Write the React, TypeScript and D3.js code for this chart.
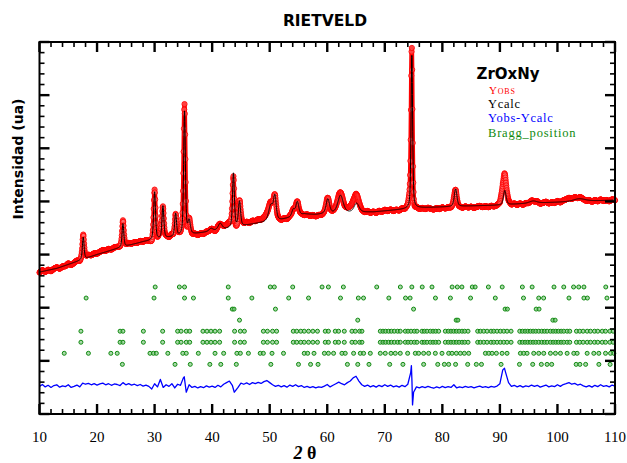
import React from "react";
import * as d3 from "d3";

const W = 627;
const H = 463;

// ---- axis definitions ----
const X_DOMAIN: [number, number] = [10, 110];
const Y_DOMAIN: [number, number] = [0, 7000];
const xTickLabels = ["10", "20", "30", "40", "50", "60", "70", "80", "90", "100", "110"];
const xTickValues = [10, 20, 30, 40, 50, 60, 70, 80, 90, 100, 110];

// ---- background of the calculated profile [2theta, intensity] ----
const background: [number, number][] = [
  [10, 2670], [13, 2740], [16, 2850], [20, 3000], [24, 3130], [28, 3240],
  [32, 3310], [36, 3370], [40, 3440], [44, 3510], [48, 3590], [52, 3650],
  [56, 3760], [58, 3750], [60, 3770], [64, 3790], [68, 3800], [72, 3840],
  [76, 3880], [80, 3895], [85, 3915], [90, 3930], [95, 3965], [100, 3985],
  [105, 4005], [110, 4025],
];

const peaks: [number, number, number][] = [
  [17.6, 420, 0.35], [24.5, 440, 0.35], [30.0, 900, 0.38], [31.45, 610, 0.38],
  [33.65, 430, 0.38], [35.2, 2330, 0.36], [36.0, 250, 0.5], [39.8, 50, 0.8],
  [41.4, 120, 0.8], [43.7, 1020, 0.38], [44.75, 470, 0.45], [50.2, 300, 0.9],
  [50.9, 430, 0.55], [54.1, 130, 0.6], [54.8, 260, 0.6], [60.1, 270, 0.7],
  [62.3, 330, 1.1], [65.1, 170, 1.0], [74.7, 2880, 0.32], [82.3, 330, 0.55],
  [90.85, 270, 0.55], [95.8, 40, 1.5], [103.8, 50, 2.5],
];

// ---- Yobs - Ycalc, every 0.5 deg from 10 to 110 ----
const diffStart = 10;
const diffStep = 0.5;
const diffGrid = [
  -10, 25, -20, 10, -30, 5, 20, -25, 0, -15,
  20, -30, -10, 15, -20, 50, 30, 45, 20, 40,
  15, 35, 50, 20, 40, 10, 35, 25, 5, 60,
  20, 40, 15, 30, 5, 25, -5, 15, -10, -60,
  40, -20, 120, -30, 20, -10, 40, -40, 30, 10,
  150, -120, 20, -30, -10, -40, -15, -35, 0, -25,
  -5, -30, 10, -20, 30, 60, 90, 10, -100, -30,
  50, 30, 55, 25, 60, 40, 65, 45, 80, 100,
  60, 20, -10, 10, -20, 5, -25, 15, -10, 20,
  -15, 5, -30, -10, -35, -15, -40, -20, -30, -5,
  25, -20, 10, 40, 70, 40, 20, 60, 90, 150,
  180, 90, 20, -10, 15, -20, 5, -25, 10, -15,
  20, -10, 15, -20, 0, -25, 10, -15, 30, 250,
  -120, -20, -40, -15, -35, -10, -30, -45, -20, -40,
  -10, -35, -15, -30, 20, -40, -20, -35, -10, -30,
  -15, -40, -20, -5, -30, -15, -35, -10, -25, -5,
  40, 300, 250, 60, -10, 10, -20, 5, -25, 0,
  -15, 15, -10, 10, -25, -5, 15, -20, 0, -15,
  20, -10, 25, 40, 60, 30, 45, 15, 30, 0,
  -20, 5, -25, 10, -15, 20, -10, 5, -20, 15,
  -5,
];
const diffSpikes: [number, number][] = [
  [74.62, 380], [74.72, 80], [74.82, -360], [90.8, 330], [35.15, 170], [43.85, -120],
];
const DIFF_OFFSET = 530;

// ---- Bragg positions, one list per phase row ----
const braggRow1 = [30.1, 34.3, 35.2, 42.8, 50.1, 50.8, 54.0, 59.1, 60.2, 62.8, 68.6, 72.7, 74.7, 76.5, 78.2, 81.7, 82.6, 83.4, 85.2, 85.7, 88.0, 90.4, 93.9, 95.6, 99.4, 101.1, 102.8, 103.7, 104.6, 108.4];
const braggRow2 = [18.1, 29.9, 35.2, 36.75, 42.8, 46.9, 53.3, 56.75, 62.3, 65.4, 66.3, 70.7, 73.6, 74.4, 78.8, 81.4, 84.9, 89.2, 94.1, 96.75, 97.6, 102.0, 104.6, 105.2, 108.6];
const braggRow3 = [43.5, 43.8, 51.0, 75.0, 90.9, 91.3, 96.3, 96.8];
const braggRow4 = [44.75, 65.3, 82.4, 82.7, 99.2, 99.6];
const braggRow5 = [17.2, 24.0, 24.5, 28.05, 31.4, 34.0, 34.6, 35.5, 36.1, 38.4, 39.1, 39.8, 40.5, 41.3, 43.9, 44.9, 45.6, 48.9, 49.6, 50.5, 51.2, 54.1, 54.7, 55.4, 56.0, 56.75, 57.5, 58.3, 59.65, 60.2, 61.39, 61.97, 62.96, 64.29, 64.87, 65.62, 66.03, 69.22, 69.68, 70.14, 70.66, 71.13, 71.65, 72.23, 72.69, 73.56, 74.03, 74.55, 75.13, 75.59, 76.46, 76.87, 77.33, 77.91, 78.38, 78.84, 79.36, 80.52, 81.04, 81.5, 81.97, 82.43, 82.9, 83.42, 83.88, 84.46, 86.14, 86.61, 87.19, 87.77, 88.46, 88.93, 89.5, 90.09, 90.67, 91.24, 91.94, 93.45, 93.91, 94.38, 94.84, 95.3, 95.77, 96.23, 96.75, 97.27, 97.74, 98.2, 98.78, 99.25, 99.71, 100.17, 100.64, 101.1, 101.68, 102.14, 103.3, 103.88, 104.46, 105.16, 105.74, 106.43, 107.01, 107.77, 108.35, 109.1, 109.68];
const braggRow6 = braggRow5;
const braggRow7 = [14.3, 18.5, 22.4, 23.5, 29.2, 29.8, 30.3, 32.3, 34.9, 35.5, 37.6, 40.5, 42.0, 44.3, 44.9, 46.3, 48.35, 48.9, 50.4, 52.4, 56.0, 56.6, 57.7, 59.5, 60.2, 61.1, 62.55, 63.13, 64.58, 65.74, 66.32, 67.48, 69.22, 70.08, 71.07, 71.82, 72.69, 73.97, 75.3, 75.88, 76.75, 77.62, 78.78, 79.94, 81.1, 81.68, 82.43, 83.13, 83.82, 84.58, 87.48, 88.06, 88.64, 89.39, 90.38, 91.24, 93.56, 94.14, 94.72, 95.88, 96.75, 97.62, 98.78, 99.65, 100.52, 101.68, 102.84, 103.42, 105.16, 106.32, 107.19, 108.35, 109.22, 109.8];
const braggRow8 = [24.4, 33.55, 36.2, 39.6, 41.5, 44.2, 50.2, 55.0, 57.1, 58.4, 63.5, 65.3, 67.25, 70.85, 73.15, 76.75, 79.2, 80.35, 81.1, 82.3, 84.4, 85.9, 86.8, 90.2, 93.4, 95.7, 97.2, 98.2, 99.0, 103.25, 103.9, 104.9, 107.2, 109.15];
const braggRows = [braggRow1, braggRow2, braggRow3, braggRow4, braggRow5, braggRow6, braggRow7, braggRow8];
const BRAGG_TOP = 2390;
const BRAGG_STEP = 208;

// ---- layout ----
const PL = 39.5, PR = 615, PT = 42, PB = 414;

export default function App() {
  const x = d3.scaleLinear().domain(X_DOMAIN).range([PL, PR]);
  const y = d3.scaleLinear().domain(Y_DOMAIN).range([PB, PT]);

  const bg = d3.scaleLinear().domain(background.map((d) => d[0])).range(background.map((d) => d[1]));
  const eta = 0.45;
  const calc = (t: number) => {
    let s = bg(t);
    for (const [p, h, w] of peaks) {
      const u = (t - p) / w;
      s += h * (eta / (1 + 4 * u * u) + (1 - eta) * Math.exp(-4 * Math.LN2 * u * u));
    }
    return s;
  };

  const diffPts: [number, number][] = diffGrid.map((v, i) => [diffStart + i * diffStep, v] as [number, number]);
  diffSpikes.forEach((d) => diffPts.push(d));
  diffPts.sort((a, b) => a[0] - b[0]);
  const diffAt = d3.scaleLinear().domain(diffPts.map((d) => d[0])).range(diffPts.map((d) => d[1]));

  const calcPts: [number, number][] = d3.range(10, 110.0001, 0.02).map((t) => [t, calc(t)]);
  const obsPts: [number, number][] = d3.range(10, 110.0001, 0.05).map((t) => [t, calc(t) + diffAt(t)]);

  const line = d3.line<[number, number]>().x((d) => x(d[0])).y((d) => y(d[1]));

  const xMinor = d3.range(10, 110.001, 2);
  const yMinor = d3.range(0, 7000.001, 200);

  const serif = "'Liberation Serif', 'Times New Roman', serif";
  const sans = "'DejaVu Sans', sans-serif";

  return (
    <svg width={W} height={H} style={{ position: "absolute", left: 0, top: 0, background: "#fff" }}>
      <rect x={0} y={0} width={W} height={H} fill="#fff" />
      <text x={325} y={25.5} textAnchor="middle" fontFamily={sans} fontWeight="bold" fontSize={15.5}>RIETVELD</text>

      {/* observed */}
      <path d={line(obsPts) || ""} fill="none" stroke="#ff0000" strokeWidth={4.5} strokeLinejoin="round" />
      {obsPts.map((d, i) => (
        <circle key={"o" + i} cx={x(d[0])} cy={y(d[1])} r={2.6} fill="#ff8080" fillOpacity={0.5} stroke="#ff0000" strokeWidth={0.9} />
      ))}
      {/* calculated */}
      <path d={line(calcPts) || ""} fill="none" stroke="#000" strokeWidth={1} />

      {/* Bragg positions */}
      {braggRows.map((row, r) =>
        row.map((t, i) => (
          <circle key={"b" + r + "_" + i} cx={x(t)} cy={y(BRAGG_TOP - r * BRAGG_STEP)} r={2} fill="#6fbf6f" fillOpacity={0.6} stroke="#108a10" strokeWidth={1} />
        ))
      )}

      {/* difference */}
      <path d={line(diffPts.map((d) => [d[0], d[1] + DIFF_OFFSET] as [number, number])) || ""} fill="none" stroke="#0000ff" strokeWidth={1.3} strokeLinejoin="round" />

      {/* frame and ticks */}
      <rect x={PL} y={PT} width={PR - PL} height={PB - PT} fill="none" stroke="#000" strokeWidth={2} />
      {xMinor.map((t) => {
        const major = Math.abs(t % 10) < 1e-6;
        const len = major ? 10 : 5;
        return (
          <g key={"xt" + t}>
            <line x1={x(t)} x2={x(t)} y1={PB} y2={PB - len} stroke="#000" strokeWidth={major ? 2.4 : 1.6} />
            <line x1={x(t)} x2={x(t)} y1={PT} y2={PT + len} stroke="#000" strokeWidth={major ? 2.4 : 1.6} />
          </g>
        );
      })}
      {yMinor.map((v) => {
        const major = Math.abs(v % 1000) < 1e-6;
        const len = major ? 10 : 5;
        return (
          <g key={"yt" + v}>
            <line x1={PL} x2={PL + len} y1={y(v)} y2={y(v)} stroke="#000" strokeWidth={major ? 2.4 : 1.6} />
            <line x1={PR} x2={PR - len} y1={y(v)} y2={y(v)} stroke="#000" strokeWidth={major ? 2.4 : 1.6} />
          </g>
        );
      })}
      {xTickValues.map((t, i) => (
        <text key={"xl" + t} x={x(t)} y={442} textAnchor="middle" fontFamily={serif} fontSize={15}>{xTickLabels[i]}</text>
      ))}
      <text x={305} y={459} textAnchor="middle" fontFamily={serif} fontSize={18} fontWeight="bold">
        <tspan fontStyle="italic">2</tspan>
        <tspan> θ</tspan>
      </text>
      <text transform="translate(23,159) rotate(-90)" textAnchor="middle" fontFamily={sans} fontWeight="bold" fontSize={14}>Intensidad (ua)</text>

      {/* legend */}
      <text x={476.5} y={79} fontFamily={sans} fontWeight="bold" fontSize={15}>ZrOxNy</text>
      <text x={489} y={94} fontFamily={serif} fontSize={11} fill="#ff0000" style={{ fontVariant: "small-caps" }} letterSpacing={0.8}>Yobs</text>
      <text x={488} y={107.5} fontFamily={serif} fontSize={12.5} letterSpacing={0.7} fill="#000">Ycalc</text>
      <text x={488} y={122} fontFamily={serif} fontSize={12.5} letterSpacing={0.7} fill="#0000ff">Yobs-Ycalc</text>
      <text x={488} y={136.5} fontFamily={serif} fontSize={12.5} letterSpacing={0.8} fill="#108a10">Bragg_position</text>
    </svg>
  );
}
